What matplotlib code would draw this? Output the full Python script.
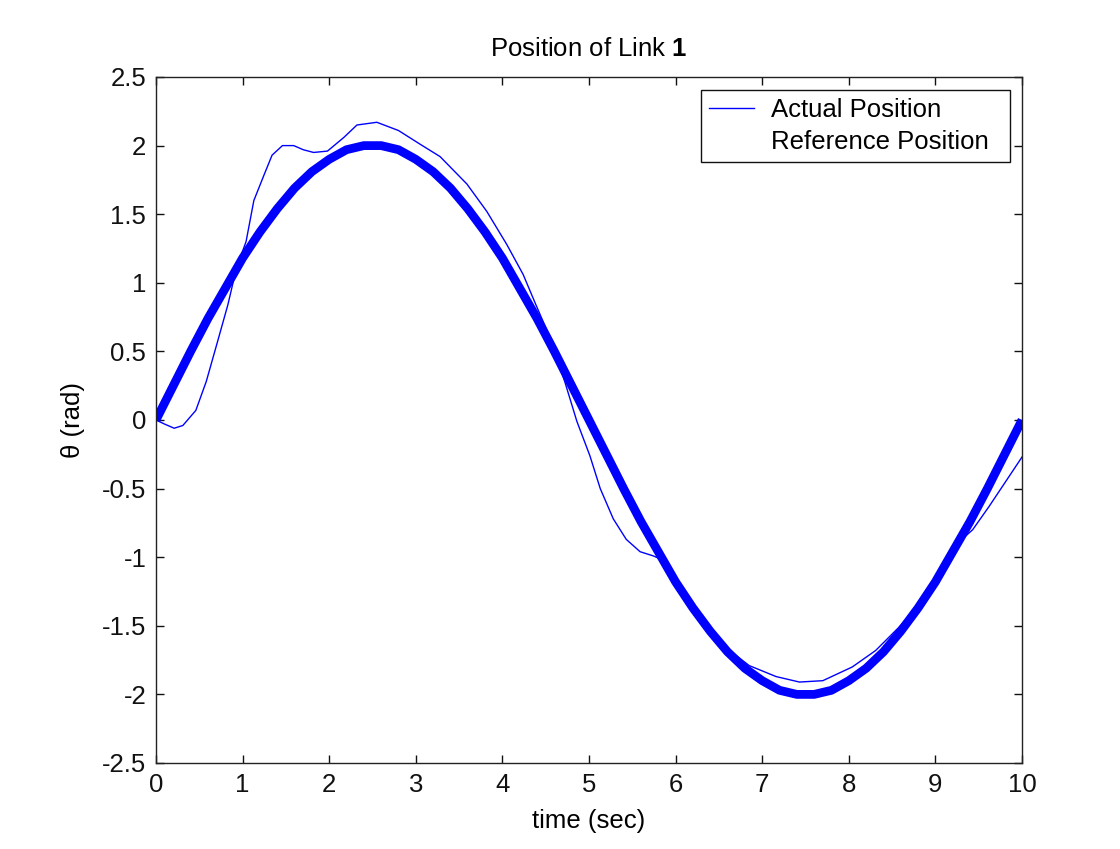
import numpy as np
import matplotlib
matplotlib.use("Agg")
from matplotlib import pyplot as plt
from matplotlib.lines import Line2D
from matplotlib.ticker import FormatStrFormatter

plt.rcParams['font.family'] = ['Liberation Sans', 'DejaVu Sans']
plt.rcParams['mathtext.fontset'] = 'custom'
plt.rcParams['mathtext.bf'] = 'Liberation Sans:bold'
plt.rcParams['mathtext.rm'] = 'Liberation Sans'
plt.rcParams['axes.unicode_minus'] = False

# posizione di riferimento (campionata ogni 0.2 s)
t_ref = [0.0, 0.2, 0.4, 0.6, 0.8, 1.0, 1.2, 1.4, 1.6, 1.8, 2.0, 2.2, 2.4,
         2.6, 2.8, 3.0, 3.2, 3.4, 3.6, 3.8, 4.0, 4.2, 4.4, 4.6, 4.8, 5.0,
         5.2, 5.4, 5.6, 5.8, 6.0, 6.2, 6.4, 6.6, 6.8, 7.0, 7.2, 7.4,
         7.6, 7.8, 8.0, 8.2, 8.4, 8.6, 8.8, 9.0, 9.2, 9.4, 9.6, 9.8, 10.0]
pos_ref = [0.0, 0.25, 0.50, 0.74, 0.96, 1.18, 1.37, 1.54, 1.69, 1.81, 1.90, 1.97, 2.00,
           2.00, 1.97, 1.90, 1.81, 1.69, 1.54, 1.37, 1.18, 0.96, 0.74, 0.50, 0.25, 0.0,
           -0.25, -0.50, -0.74, -0.96, -1.18, -1.37, -1.54, -1.69, -1.81, -1.90, -1.97, -2.00,
           -2.00, -1.97, -1.90, -1.81, -1.69, -1.54, -1.37, -1.18, -0.96, -0.74, -0.50, -0.25, 0.0]

# posizione effettiva del link
t_act = [0.0, 0.1, 0.21, 0.31, 0.46, 0.58, 0.71, 0.83, 0.93, 1.04, 1.13, 1.25,
         1.34, 1.46, 1.59, 1.7, 1.82, 1.98, 2.17, 2.32, 2.55, 2.8, 3.05, 3.28,
         3.59, 3.82, 4.05, 4.24, 4.38, 4.55, 4.72, 4.86, 5.01, 5.13, 5.28, 5.43,
         5.59, 5.74, 5.85, 6.0, 6.25, 6.5, 6.85, 7.16, 7.43, 7.70, 8.04, 8.31,
         8.58, 8.8, 9.05, 9.27, 9.43, 9.62, 9.81, 10.0]
pos_act = [0.0, -0.03, -0.06, -0.04, 0.07, 0.28, 0.57, 0.84, 1.11, 1.30, 1.60, 1.79,
           1.93, 2.00, 2.00, 1.97, 1.95, 1.96, 2.06, 2.15, 2.17, 2.11, 2.01, 1.92,
           1.72, 1.52, 1.28, 1.06, 0.85, 0.60, 0.28, -0.01, -0.26, -0.50, -0.72, -0.87,
           -0.96, -0.99, -1.02, -1.18, -1.41, -1.62, -1.79, -1.87, -1.91, -1.90, -1.80, -1.68,
           -1.51, -1.35, -1.10, -0.89, -0.80, -0.63, -0.45, -0.27]

fs = 18.5

fig = plt.figure(figsize=(11.2, 8.49), dpi=100)
ax = fig.add_axes([156/1120, 1-763/849, (1022-156)/1120, (763-77)/849])

ax.plot(t_ref, pos_ref, color='#0000ff', lw=6.3, solid_joinstyle='round',
        solid_capstyle='butt')
l_act, = ax.plot(t_act, pos_act, color='#0000ff', lw=1.0)

ax.set_xlim(0, 10)
ax.set_ylim(-2.5, 2.5)
ax.set_xticks(np.arange(0, 11, 1))
ax.set_yticks(np.arange(-2.5, 2.51, 0.5))
ax.yaxis.set_major_formatter(FormatStrFormatter('%g'))
ax.tick_params(direction='in', length=6, width=1, top=True, right=True,
               labelsize=fs, pad=7, colors='#111111')
for s in ax.spines.values():
    s.set_linewidth(1.0)
    s.set_color('#222222')

ax.set_title(r'Position of Link $\mathbf{1}$', fontsize=fs, pad=15)
ax.set_xlabel('time (sec)', fontsize=fs, labelpad=9)
ax.set_ylabel('θ (rad)', fontsize=fs, labelpad=12)

vuoto = Line2D([], [], linestyle='none')
leg = ax.legend([l_act, vuoto], ['Actual Position', 'Reference Position  '],
                loc='upper right', bbox_to_anchor=(0.9865, 0.981), fontsize=fs,
                fancybox=False, framealpha=1, edgecolor='#111111',
                handlelength=1.75, handletextpad=0.66, borderpad=0.3,
                labelspacing=0.33, borderaxespad=0)
leg.get_frame().set_linewidth(1.0)

fig.savefig('out.png', dpi=100)
